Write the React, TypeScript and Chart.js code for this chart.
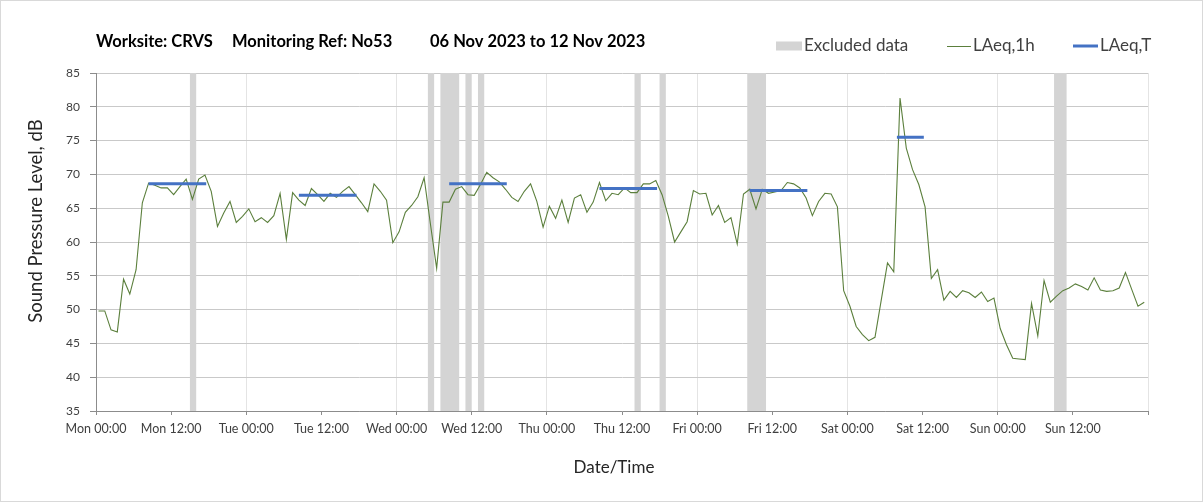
import React, { useEffect, useRef } from "react";
import { Chart, registerables } from "chart.js";

Chart.register(...registerables);

const FONT = "Lato, 'Open Sans', sans-serif";

const titleParts = ["Worksite: CRVS", "Monitoring Ref: No53", "06 Nov 2023 to 12 Nov 2023"];
const dayNames = ["Mon", "Tue", "Wed", "Thu", "Fri", "Sat", "Sun"];
const legendLabels = ["Excluded data", "LAeq,1h", "LAeq,T"];
const yAxisTitle = "Sound Pressure Level, dB";
const xAxisTitle = "Date/Time";

// hourly LAeq,1h values, Mon 00:00 .. Sun 23:00
const laeq1h = [
  49.8, 49.8, 47.0, 46.7, 54.5, 52.3, 55.9, 65.8, 68.7, 68.4, 68.0, 68.0,
  67.0, 68.2, 69.3, 66.3, 69.3, 69.9, 67.5, 62.3, 64.3, 66.0, 62.9, 63.8,
  64.9, 63.0, 63.6, 62.9, 63.9, 67.2, 60.4, 67.3, 66.2, 65.4, 67.9, 67.0,
  66.0, 67.2, 66.6, 67.5, 68.2, 67.0, 65.8, 64.5, 68.6, 67.5, 66.2, 59.9,
  61.5, 64.4, 65.4, 66.7, 69.5, 62.7, 56.1, 65.9, 65.9, 67.8, 68.2, 67.0,
  66.9, 68.5, 70.3, 69.5, 68.9, 67.8, 66.6, 66.0, 67.5, 68.6, 66.0, 62.2,
  65.3, 63.5, 66.2, 62.9, 66.5, 67.0, 64.4, 65.9, 68.8, 66.1, 67.2, 67.0,
  68.0, 67.3, 67.3, 68.6, 68.6, 69.1, 67.0, 63.8, 60.0, 61.5, 63.0, 67.6,
  67.1, 67.2, 64.0, 65.4, 62.9, 63.6, 59.7, 67.1, 67.8, 64.9, 67.8, 67.2,
  67.4, 67.6, 68.8, 68.6, 68.0, 66.5, 63.9, 66.0, 67.2, 67.1, 65.2, 52.8,
  50.5, 47.5, 46.3, 45.4, 45.9, 51.4, 56.9, 55.6, 81.3, 73.9, 70.7, 68.5,
  65.2, 54.6, 55.9, 51.4, 52.7, 51.8, 52.8, 52.5, 51.8, 52.6, 51.2, 51.7,
  47.2, 44.8, 42.8, 42.7, 42.6, 50.9, 46.1, 54.3, 51.1, 52.0, 52.8, 53.2,
  53.8, 53.4, 52.9, 54.7, 52.9, 52.7, 52.8, 53.2, 55.5, 53.0, 50.5, 51.1,
];
const pointOffsetHours = 0.4;

// excluded periods (hours from Mon 00:00)
const excludedStart = [15, 53, 55, 59, 61, 86, 90, 104, 153];
const excludedEnd = [16, 54, 58, 60, 62, 87, 91, 107, 155];

// LAeq,T periods (hours from Mon 00:00) and levels
const laeqTStart = [8.4, 32.4, 56.4, 80.4, 104.4, 127.9];
const laeqTEnd = [17.6, 41.6, 65.6, 89.6, 113.6, 132.2];
const laeqTValue = [68.6, 66.9, 68.6, 67.9, 67.6, 75.5];

const xMin = 0;
const xMax = 168;
const xStep = 12;
const yMin = 35;
const yMax = 85;
const yStep = 5;

const GREEN = "#5b7f3c";
const BLUE = "#4472c4";
const BAND = "#d4d4d4";

function hourLabel(v: number): string {
  if (v >= xMax) return "";
  const d = Math.floor(v / 24);
  const h = v % 24;
  return `${dayNames[d]} ${String(h).padStart(2, "0")}:00`;
}

const bandsPlugin = {
  id: "bands",
  beforeDatasetsDraw(chart: any) {
    const { ctx, chartArea, scales } = chart;
    ctx.save();
    ctx.fillStyle = BAND;
    for (let i = 0; i < excludedStart.length; i++) {
      const x1 = scales.x.getPixelForValue(excludedStart[i]);
      const x2 = scales.x.getPixelForValue(excludedEnd[i]);
      ctx.fillRect(x1, chartArea.top, x2 - x1, chartArea.bottom - chartArea.top);
    }
    ctx.restore();
  },
};

const decorPlugin = {
  id: "decor",
  afterDraw(chart: any) {
    const { ctx, chartArea, width, height } = chart;
    ctx.save();
    // outer frame
    ctx.strokeStyle = "#d9d9d9";
    ctx.lineWidth = 1;
    ctx.strokeRect(0.5, 0.5, width - 1, height - 1);

    // title
    ctx.fillStyle = "#000000";
    ctx.textBaseline = "middle";
    ctx.textAlign = "left";
    ctx.font = `bold 16.5px ${FONT}`;
    const titleX = [chartArea.left, 232, 430];
    titleParts.forEach((t, i) => ctx.fillText(t, titleX[i], 42));

    // legend
    ctx.font = `17px ${FONT}`;
    const ly = 46;
    ctx.fillStyle = BAND;
    ctx.fillRect(776, 41.5, 26, 9);
    ctx.fillStyle = "#404040";
    ctx.fillText(legendLabels[0], 804, ly);
    ctx.strokeStyle = GREEN;
    ctx.lineWidth = 1;
    ctx.beginPath();
    ctx.moveTo(947, ly + 0.5);
    ctx.lineTo(971, ly + 0.5);
    ctx.stroke();
    ctx.fillText(legendLabels[1], 973, ly);
    ctx.strokeStyle = BLUE;
    ctx.lineWidth = 3;
    ctx.beginPath();
    ctx.moveTo(1073, ly);
    ctx.lineTo(1098, ly);
    ctx.stroke();
    ctx.fillText(legendLabels[2], 1100, ly);

    // axis titles
    ctx.fillStyle = "#262626";
    ctx.font = `17px ${FONT}`;
    ctx.textAlign = "center";
    ctx.fillText(xAxisTitle, 614, 468);
    ctx.font = `18.5px ${FONT}`;
    ctx.translate(36, 221);
    ctx.rotate(-Math.PI / 2);
    ctx.fillText(yAxisTitle, 0, 0);
    ctx.restore();
  },
};

export default function App() {
  const ref = useRef<HTMLCanvasElement | null>(null);

  useEffect(() => {
    document.body.style.margin = "0";
    const canvas = ref.current;
    if (!canvas) return;

    const lineData = laeq1h.map((v, i) => ({ x: i + pointOffsetHours, y: v }));
    const tData: any[] = [];
    for (let i = 0; i < laeqTStart.length; i++) {
      tData.push({ x: laeqTStart[i], y: laeqTValue[i] });
      tData.push({ x: laeqTEnd[i], y: laeqTValue[i] });
      tData.push({ x: laeqTEnd[i] + 0.01, y: null });
    }

    const chart = new Chart(canvas, {
      type: "line",
      data: {
        datasets: [
          {
            label: legendLabels[2],
            data: tData,
            borderColor: BLUE,
            borderWidth: 3,
            pointRadius: 0,
            spanGaps: false,
            tension: 0,
            borderCapStyle: "butt",
          },
          {
            label: legendLabels[1],
            data: lineData,
            borderColor: GREEN,
            borderWidth: 1.1,
            pointRadius: 0,
            tension: 0,
          },
        ],
      },
      options: {
        responsive: false,
        animation: false,
        parsing: true,
        layout: { padding: { left: 0, right: 55, top: 73, bottom: 0 } },
        plugins: {
          legend: { display: false },
          title: { display: false },
          tooltip: { enabled: false },
        },
        scales: {
          x: {
            type: "linear",
            min: xMin,
            max: xMax,
            afterFit: (s: any) => {
              s.height = 91;
            },
            ticks: {
              stepSize: xStep,
              autoSkip: false,
              maxRotation: 0,
              padding: 6,
              color: "#404040",
              font: { family: FONT, size: 12.5 },
              callback: (v: any) => hourLabel(Number(v)),
            },
            grid: {
              color: (c: any) =>
                c.tick && c.tick.value % 24 === 0 ? "#e4e4e4" : "rgba(0,0,0,0)",
              tickColor: "#8c8c8c",
              tickLength: 4,
              lineWidth: 1,
            },
            border: { color: "#8c8c8c", width: 1 },
          },
          y: {
            type: "linear",
            min: yMin,
            max: yMax,
            afterFit: (s: any) => {
              s.width = 96;
            },
            ticks: {
              stepSize: yStep,
              padding: 10,
              color: "#404040",
              font: { family: FONT, size: 12 },
            },
            grid: {
              color: "#c9c9c9",
              tickColor: "#8c8c8c",
              tickLength: 6,
              lineWidth: 1,
            },
            border: { color: "#8c8c8c", width: 1 },
          },
        },
      },
      plugins: [bandsPlugin, decorPlugin],
    });

    return () => chart.destroy();
  }, []);

  return (
    <div style={{ width: 1203, height: 502, background: "#ffffff" }}>
      <canvas ref={ref} width={1203} height={502} style={{ display: "block", width: 1203, height: 502 }} />
    </div>
  );
}
